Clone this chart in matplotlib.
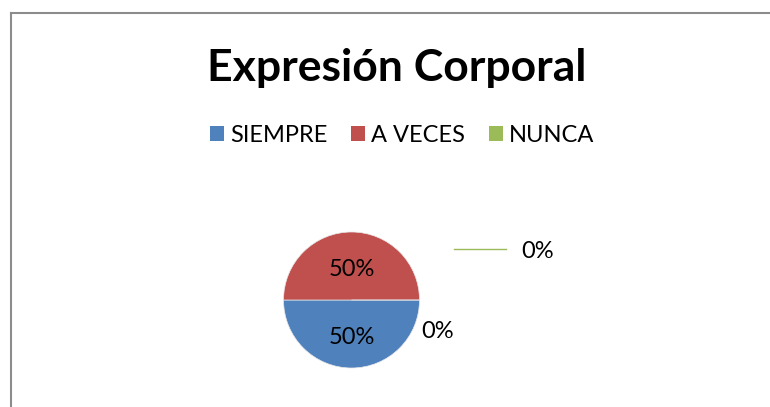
import matplotlib.pyplot as plt
from matplotlib.lines import Line2D
from matplotlib.patches import Patch

# data
categories = ['SIEMPRE', 'A VECES', 'NUNCA']
values = [50, 50, 0]
colors = ['#4F81BD', '#C0504D', '#9BBB59']
title = 'Expresión Corporal'

plt.rcParams['font.family'] = ['Lato', 'DejaVu Sans']

fig = plt.figure(figsize=(7.7, 4.07), dpi=100)

# chart border (only top and left visible in the crop)
fig.add_artist(Line2D([11 / 770, 1], [1 - 13 / 407] * 2, color='#8c8c8c', lw=1.5))
fig.add_artist(Line2D([11 / 770] * 2, [0, 1 - 13 / 407], color='#8c8c8c', lw=1.5))

fig.text(397 / 770, 1 - 68 / 407, title, ha='center', va='center',
         fontsize=32, fontweight='bold')

handles = [Patch(facecolor=c, edgecolor='none') for c in colors]
fig.legend(handles, categories, loc='center', bbox_to_anchor=(402 / 770, 1 - 135 / 407),
           ncol=3, frameon=False, fontsize=17, handlelength=0.6, handleheight=0.6,
           handletextpad=0.25, columnspacing=1.0)

# pie axes: radius 68 px, centre at (351.5, 300)
r = 68
ax = fig.add_axes([(351.5 - r) / 770, (407 - 300 - r) / 407, 2 * r / 770, 2 * r / 407])
wedges, texts, autotexts = ax.pie(values, colors=colors, startangle=0, counterclock=False,
                                  autopct=lambda p: f'{p:.0f}%' if p > 0 else '',
                                  pctdistance=0.5, textprops={'fontsize': 17},
                                  wedgeprops={'edgecolor': '#e8e8e8', 'linewidth': 0.5})
# nudge the percentage labels down a little, like the original
for t in autotexts:
    x, y = t.get_position()
    t.set_position((x, y - 0.05))
ax.set_xlim(-1, 1)
ax.set_ylim(-1, 1)
ax.set_aspect('auto')

# zero-value labels
ax.annotate('0%', xy=(1.02, -0.47), ha='left', va='center', fontsize=17,
            annotation_clip=False)
ax.plot([1.51, 2.27], [0.75, 0.75], color=colors[2], lw=1, clip_on=False)
ax.annotate('0%', xy=(2.49, 0.72), ha='left', va='center', fontsize=17,
            annotation_clip=False)

fig.savefig('out.png', dpi=100)
